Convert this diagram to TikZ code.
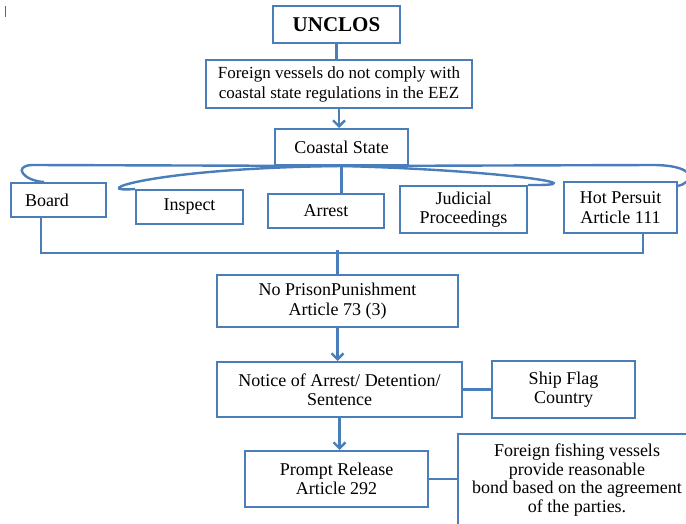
\documentclass[tikz,border=0pt]{standalone}
\usepackage{fontspec}
\setmainfont{Liberation Serif}
\usepackage{xcolor}
\usetikzlibrary{arrows.meta,positioning,calc}

\definecolor{lineblue}{RGB}{74,126,187}

\tikzset{
    blockbox/.style={rectangle, draw=lineblue, line width=2pt, fill=white, align=center,
        inner sep=0pt, font=\fontsize{18}{19.5}\selectfont},
    link/.style={draw=lineblue, line width=2.4pt},
    arrowlink/.style={link, -{Straight Barb[length=6pt,width=12pt,line width=2.4pt]}}
}

\begin{document}
\begin{tikzpicture}[x=1pt, y=-1pt]
    \useasboundingbox (0,0) rectangle (686,524);
    \clip (0,0) rectangle (686,524);

    % cursor mark
    \draw[black!60, line width=0.8pt] (5,6) -- (5,17);

    % Top
    \node[blockbox, minimum width=127, minimum height=37, font=\bfseries\fontsize{21}{24}\selectfont] (unclos) at (336.5,24.5) {UNCLOS};
    \node[blockbox, minimum width=266, minimum height=48, font=\fontsize{17}{20}\selectfont] (foreign) at (339,84) {Foreign vessels do not comply with\\coastal state regulations in the EEZ};
    \node[blockbox, minimum width=133, minimum height=36] (coastal) at (341.5,147) {Coastal State};

    % Powers of the coastal state
    \node[blockbox, minimum width=95, minimum height=34, text width=67, align=left] (board) at (58.5,200) {Board};
    \node[blockbox, minimum width=107, minimum height=34] (inspect) at (189.5,207) {Inspect};
    \node[blockbox, minimum width=116, minimum height=34] (arrest) at (326,211) {Arrest};
    \node[blockbox, minimum width=127, minimum height=47] (judicial) at (463.5,209.5) {Judicial\\Proceedings};
    \node[blockbox, minimum width=113, minimum height=51] (hot) at (620.5,207.5) {Hot Persuit\\Article 111};

    % Procedure
    \node[blockbox, minimum width=241, minimum height=52] (noprison) at (337.5,301) {No PrisonPunishment\\Article 73 (3)};
    \node[blockbox, minimum width=245, minimum height=55] (notice) at (339.5,389.5) {Notice of Arrest/ Detention/\\Sentence};
    \node[blockbox, minimum width=143, minimum height=57] (shipflag) at (563.5,389.5) {Ship Flag\\Country};
    \node[blockbox, minimum width=183, minimum height=56] (prompt) at (336.5,479) {Prompt Release\\Article 292};
    \node[blockbox, minimum width=238, minimum height=92, font=\fontsize{18}{18.7}\selectfont] (fishing) at (577,480) {Foreign fishing vessels\\provide reasonable\\bond based on the agreement\\of the parties.};

    % Connectors
    \draw[link] (unclos.south) -- (unclos.south |- foreign.north);
    \draw[arrowlink] (foreign.south) -- (foreign.south |- coastal.north);
    \draw[link] (coastal.south) -- (coastal.south |- arrest.north);
    \draw[link] (coastal.south) -- (32,165) .. controls (12,166) and (24,181) .. ($(board.north west)+(34,0)$);
    \draw[link] (coastal.south) -- (655,165) .. controls (700,166) and (692,183) .. ($(hot.north east)+(0,5)$);
    \draw[link] (coastal.south) .. controls (150,168) and (85,193) .. (inspect.north west);
    \draw[link] (coastal.south) .. controls (500,170) and (605,186) .. (judicial.north east);

    \coordinate (boardfoot) at ($(board.south west)+(31,0)$);
    \coordinate (hotfoot) at ($(hot.south west)+(80,0)$);
    \draw[link] (boardfoot) -- ++(0,35) -| (hotfoot);
    \draw[link] (noprison.north) -- ++(0,-24);

    \draw[arrowlink] (noprison.south) -- (noprison.south |- notice.north);
    \draw[link] (notice) -- (shipflag);
    \draw[arrowlink] (notice.south) -- (notice.south |- prompt.north);
    \draw[link] (prompt.east) -- (prompt.east -| fishing.west);
\end{tikzpicture}
\end{document}
